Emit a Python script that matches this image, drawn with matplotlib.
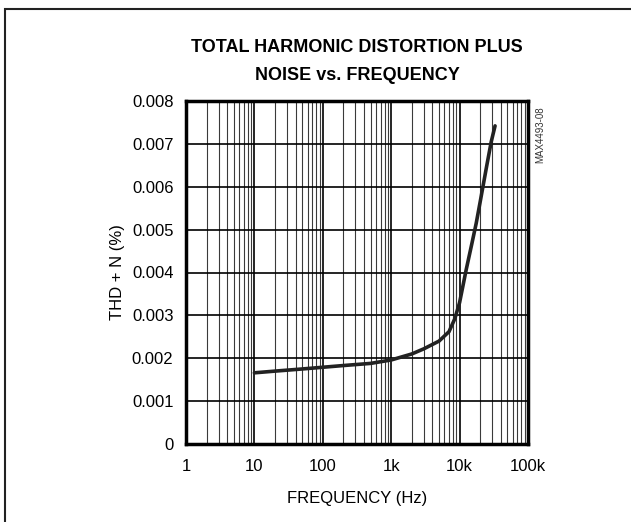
import numpy as np
import matplotlib.pyplot as plt
from matplotlib.patches import Rectangle
from matplotlib.ticker import FixedLocator, LogLocator, NullFormatter

plt.rcParams['font.family'] = ['Liberation Sans', 'DejaVu Sans']

# THD+N curve
freq = [10, 20, 50, 100, 200, 500, 1000, 2000, 3000, 5000, 7000, 8500,
        10000, 12500, 15000, 17500, 20000, 25000, 29000, 33000]
thdn = [0.00166, 0.00170, 0.00175, 0.00179, 0.00183, 0.00188, 0.00196,
        0.00210, 0.00222, 0.00240, 0.00262, 0.00292, 0.00330, 0.00407,
        0.00465, 0.00515, 0.00565, 0.00650, 0.00705, 0.00742]

y_ticks = [0, 0.001, 0.002, 0.003, 0.004, 0.005, 0.006, 0.007, 0.008]
y_labels = ['0', '0.001', '0.002', '0.003', '0.004', '0.005', '0.006', '0.007', '0.008']
x_ticks = [1, 10, 100, 1000, 10000, 100000]
x_labels = ['1', '10', '100', '1k', '10k', '100k']

fig = plt.figure(figsize=(6.31, 5.22), dpi=100)
ax = fig.add_axes([186 / 631, 1 - 444 / 522, 342 / 631, 343 / 522])

# border of the figure (only left and top visible in the original)
fig.patches.append(Rectangle((5 / 631, -0.1), 1.2, 1 - 9 / 522 + 0.1,
                             transform=fig.transFigure, fill=False,
                             edgecolor='#222222', linewidth=1.5))

ax.plot(freq, thdn, color='#222222', linewidth=2.6, solid_capstyle='round')

ax.set_xscale('log')
ax.set_xlim(1, 100000)
ax.set_ylim(0, 0.008)
ax.xaxis.set_major_locator(FixedLocator(x_ticks))
ax.set_xticklabels(x_labels)
ax.xaxis.set_minor_locator(LogLocator(base=10, subs=np.arange(2, 10)))
ax.xaxis.set_minor_formatter(NullFormatter())
ax.set_yticks(y_ticks)
ax.set_yticklabels(y_labels)

ax.grid(True, which='major', color='black', linewidth=1.2)
ax.grid(True, which='minor', axis='x', color='#3a3a3a', linewidth=0.8)
ax.tick_params(which='both', length=0, labelsize=12, pad=9)
ax.tick_params(axis='x', pad=11)
for s in ax.spines.values():
    s.set_linewidth(2.5)
    s.set_zorder(5)

ax.set_xlabel('FREQUENCY (Hz)', fontsize=12, labelpad=12)
ax.set_ylabel('THD + N (%)', fontsize=12, labelpad=5)

fig.text(357 / 631, 1 - 48 / 522, 'TOTAL HARMONIC DISTORTION PLUS',
         fontsize=13, fontweight='bold', ha='center', va='center')
fig.text(357 / 631, 1 - 75 / 522, 'NOISE vs. FREQUENCY',
         fontsize=13, fontweight='bold', ha='center', va='center')

fig.text(540 / 631, 1 - 106 / 522, 'MAX4493-08', rotation=90, fontsize=7,
         ha='center', va='top', color='#333333')

fig.savefig('out.png', dpi=100)
